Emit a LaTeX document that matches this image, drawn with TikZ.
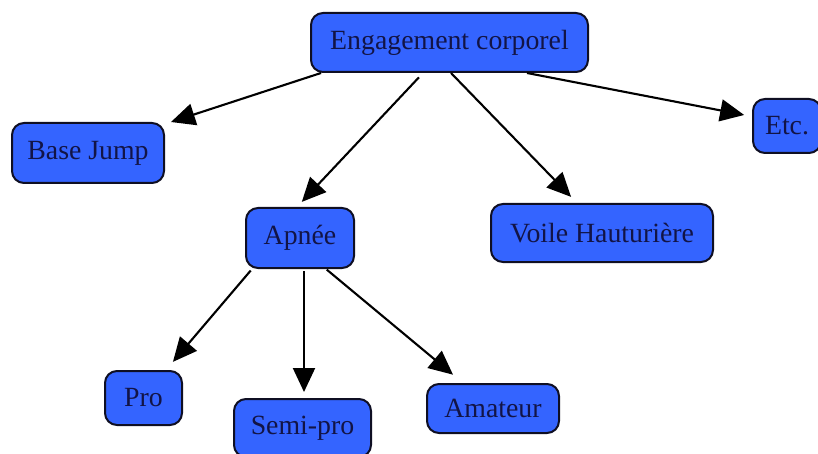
\documentclass[tikz,border=0pt]{standalone}
\usepackage{fontspec}
\setmainfont{Liberation Serif}
\usetikzlibrary{arrows.meta}
\definecolor{boxblue}{RGB}{52,100,255}
\definecolor{boxtext}{RGB}{18,20,70}
\definecolor{boxline}{RGB}{15,15,35}
\tikzset{
  box/.style={draw=boxline, line width=2pt, fill=boxblue, rounded corners=12pt,
    text=boxtext, font=\fontsize{27.8}{32}\selectfont, inner sep=0pt, anchor=center},
  arr/.style={line width=2.1pt, -{Triangle[length=24pt,width=22pt]}}
}
\begin{document}
\begin{tikzpicture}[x=1pt,y=-1pt]
\useasboundingbox (0,0) rectangle (818,454);
\begin{scope}
\clip (0,0) rectangle (818,454);
\node[box, minimum width=277pt, minimum height=59pt] (eng) at (449.5,42.5) {Engagement corporel};
\node[box, minimum width=152pt, minimum height=60pt] (bj) at (88,153) {Base Jump};
\node[box, minimum width=68pt, minimum height=54pt] (etc) at (787,126) {Etc.};
\node[box, minimum width=108pt, minimum height=60pt] (apnee) at (300,238) {Apnée};
\node[box, minimum width=222pt, minimum height=58pt] (voile) at (602,233) {Voile Hauturière};
\node[box, minimum width=77pt, minimum height=54pt] (pro) at (143.5,398) {Pro};
\node[box, minimum width=137pt, minimum height=58pt] (semi) at (302.5,428) {Semi-pro};
\node[box, minimum width=132pt, minimum height=49pt] (amat) at (493,408.5) {Amateur};
\end{scope}
\draw[arr] ([xshift=11pt]eng.south west) -- ([xshift=6pt]bj.north east);
\draw[arr, shorten <=6pt, shorten >=7pt] ([xshift=113pt]eng.south west) -- ([xshift=-3pt]apnee.north);
\draw[arr, shorten >=8.5pt] ([xshift=141pt]eng.south west) -- ([xshift=87pt]voile.north west);
\draw[arr, shorten >=8pt] ([xshift=217pt]eng.south west) -- ([yshift=9.5pt]etc.west);
\draw[arr, shorten <=2pt, shorten >=10.7pt] ([xshift=7pt]apnee.south west) -- ([xshift=-17pt]pro.north east);
\draw[arr, shorten <=2pt, shorten >=6pt] ([xshift=4pt]apnee.south) -- ([xshift=1.5pt]semi.north);
\draw[arr, shorten <=1pt, shorten >=13pt] ([xshift=-29pt]apnee.south east) -- ([xshift=37pt]amat.north west);
\end{tikzpicture}
\end{document}
